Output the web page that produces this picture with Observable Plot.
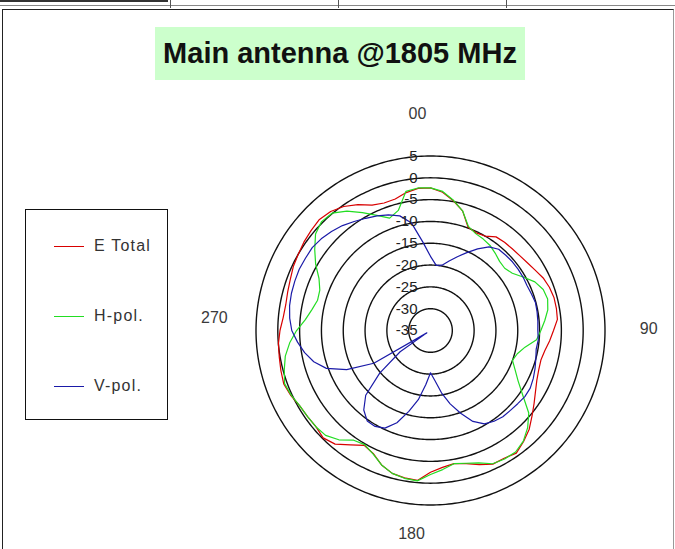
<!DOCTYPE html>
<html><head><meta charset="utf-8">
<script src="https://cdn.jsdelivr.net/npm/d3@7"></script>
<script src="https://cdn.jsdelivr.net/npm/@observablehq/plot@0.6"></script>
<style>
html,body{margin:0;padding:0;background:#fff;}
#wrap{position:relative;width:675px;height:549px;overflow:hidden;font-family:"Liberation Sans",Arial,sans-serif;}
#chart{position:absolute;left:0;top:0;}
#chart svg{display:block;overflow:visible;}
.strip{position:absolute;left:0;top:0;width:675px;height:5px;border-bottom:1px solid #888;}
.stripdark{position:absolute;left:0;top:0;width:168px;height:2px;background:#333;}
.tick{position:absolute;top:0;width:1px;height:8px;background:#555;}
.frame{position:absolute;left:2px;top:9px;width:670px;height:560px;border-left:1px solid #222;border-top:1px solid #222;border-right:1px solid #999;}
.title{position:absolute;left:155px;top:27px;width:370px;height:53px;background:#ccffcc;display:flex;align-items:center;justify-content:center;font-weight:bold;font-size:29px;color:#111;white-space:nowrap;}
.legend{position:absolute;left:25px;top:209px;width:141px;height:209px;border:1.5px solid #111;background:#fff;}
.item{position:absolute;left:0;height:20px;}
.item .ln{position:absolute;left:28px;width:30px;height:0;border-top:1.5px solid #000;}
.item .tx{position:absolute;left:68px;font-size:16px;letter-spacing:1.2px;color:#333;white-space:nowrap;}
</style></head><body>
<div id="wrap">
  <div class="strip"></div><div class="stripdark"></div>
  <div class="tick" style="left:170px"></div><div class="tick" style="left:338px"></div><div class="tick" style="left:506px"></div>
  <div class="frame"></div>
  <div id="chart"></div>
  <div class="title">Main antenna @1805 MHz</div>
  <div class="legend" id="legend"></div>
</div>
<script>
// ---- data ----
const angles = [0,5,10,15,20,25,30,35,40,45,50,55,60,65,70,75,80,85,90,95,100,105,110,115,120,125,130,135,140,145,150,155,160,165,170,175,180,185,190,195,200,205,210,215,220,225,230,235,240,245,250,255,260,265,270,275,280,285,290,295,300,305,310,315,320,325,330,335,340,345,350,355];
const eTotal = [-2.3,-3.2,-4.8,-6.6,-9.8,-10.3,-10.0,-8.8,-8.6,-8.5,-8.3,-7.9,-7.3,-6.5,-6.0,-5.7,-5.7,-5.8,-6.8,-7.6,-8.4,-8.8,-8.6,-8.1,-7.2,-6.0,-4.6,-3.0,-1.8,-0.7,-1.2,-1.2,-2.3,-3.4,-4.0,-3.5,-2.5,-0.5,-0.7,-1.1,-2.2,-3.9,-4.6,-3.0,-1.0,-0.2,-0.7,-0.6,-0.4,0.3,0.8,0.5,0.2,0.0,-0.5,-1.1,-1.3,-1.1,-0.8,-0.3,0.0,0.4,0.7,1.0,0.6,-0.3,-1.7,-3.3,-3.9,-3.8,-2.9,-2.3];
const hPol = [-2.3,-3.0,-4.7,-6.6,-9.6,-10.5,-10.8,-11.2,-11.9,-12.6,-12.8,-12.1,-10.5,-8.6,-7.5,-7.2,-7.7,-8.7,-9.7,-10.6,-13.0,-14.4,-15.0,-13.6,-11.8,-9.2,-5.6,-3.5,-1.9,-1.0,-1.0,-1.3,-2.7,-3.5,-4.0,-3.0,-2.0,-0.4,-0.6,-1.1,-2.2,-3.8,-4.8,-4.3,-2.3,-1.0,-0.7,-0.6,-0.4,0.2,0.6,-0.3,-1.2,-2.6,-4.3,-6.2,-7.4,-8.2,-8.0,-6.8,-4.6,-2.6,-0.6,0.3,0.1,-1.6,-3.8,-5.9,-7.6,-6.5,-2.6,-2.2];
const vAngles = [0,5,10,15,20,25,30,35,40,45,50,55,60,65,70,75,80,85,90,95,100,105,110,115,120,125,130,135,140,145,150,155,160,165,170,175,180,185,190,195,200,205,210,215,220,225,230,235,237,240,245,250,255,260,265,270,275,280,285,290,295,300,305,310,315,320,325,330,335,340,345,350,355];
const vPol = [-18.0,-20.0,-19.8,-18.5,-17.0,-15.3,-13.4,-11.6,-10.7,-10.6,-10.5,-10.5,-10.5,-10.6,-10.4,-10.1,-10.2,-10.3,-10.4,-10.2,-10.4,-10.0,-9.5,-9.0,-8.6,-8.6,-8.9,-9.1,-9.2,-9.6,-10.3,-12.0,-14.8,-17.6,-20.5,-23.5,-25.3,-22.5,-18.9,-15.8,-12.5,-10.3,-9.6,-9.7,-11.2,-14.0,-19.8,-26.5,-34.0,-20.0,-13.8,-9.6,-7.3,-5.7,-4.4,-3.2,-2.6,-2.2,-2.0,-1.9,-1.8,-1.9,-1.9,-2.3,-2.9,-3.6,-4.5,-5.3,-6.0,-6.8,-7.8,-10.0,-14.6];
const seriesNames = ["E Total", "H-pol.", "V-pol."];
const seriesColors = ["#d80000", "#22dd22", "#1a1aa8"];
const ringValues = [5, 0, -5, -10, -15, -20, -25, -30];
const ringTickValues = [5, 0, -5, -10, -15, -20, -25, -30, -35];
const ringTickLabels = ["5", "0", "-5", "-10", "-15", "-20", "-25", "-30", "-35"];
const angleTicks = [0, 90, 180, 270];
const angleLabels = ["00", "90", "180", "270"];
const minDb = -35;
const maxDb = 5;

// ---- build table ----
function rowsFor(name, angs, vals) {
  const r = angs.map((a, i) => ({series: name, angle: a, db: vals[i]}));
  r.push({...r[0]}); // close the loop
  return r;
}
const rows = [
  ...rowsFor(seriesNames[0], angles, eTotal),
  ...rowsFor(seriesNames[1], angles, hPol),
  ...rowsFor(seriesNames[2], vAngles, vPol)
];
const lon = a => 180 - a;            // compass angle -> longitude
const lat = db => 90 - (db - minDb); // dB -> latitude (radius from pole)
const labelR = 50;

function angleText(i, dx, dy) {
  return Plot.text([angleLabels[i]], {
    x: () => lon(angleTicks[i]), y: () => 90 - labelR, text: d => d,
    dx, dy, fontSize: 16, fill: "#3a3a3a", fontFamily: "Liberation Sans, Arial, sans-serif", letterSpacing: "1px"
  });
}

const chart = Plot.plot({
  width: 675, height: 549,
  marginLeft: 255.5, marginRight: 70.5, marginTop: 155.5, marginBottom: 44.5,
  projection: {
    type: "azimuthal-equidistant",
    rotate: [0, -90],
    clip: false,
    domain: d3.geoCircle().center([0, 90]).radius(maxDb - minDb)()
  },
  color: {domain: seriesNames, range: seriesColors},
  marks: [
    Plot.geo(ringValues, {
      geometry: v => d3.geoCircle().center([0, 90]).radius(v - minDb).precision(1)(),
      stroke: "#111", strokeWidth: 1.4, fill: "none"
    }),
    Plot.line(rows, {
      x: d => lon(d.angle), y: d => lat(d.db), z: "series", stroke: "series",
      curve: "linear", strokeWidth: 1.2
    }),
    Plot.text(ringTickValues, {
      x: () => lon(0), y: v => lat(v), text: (v, i) => ringTickLabels[i],
      textAnchor: "end", dx: -13, fontSize: 15, fill: "#222",
      fontFamily: "Liberation Sans, Arial, sans-serif"
    }),
    angleText(0, -13, 1),
    angleText(1, 0, -2),
    angleText(2, -19, -15),
    angleText(3, 2, -13)
  ]
});
document.getElementById("chart").appendChild(chart);

// ---- legend ----
const legend = document.getElementById("legend");
const legendTops = [26, 96, 166];
seriesNames.forEach((name, i) => {
  const it = document.createElement("div");
  it.className = "item";
  it.style.top = legendTops[i] + "px";
  const ln = document.createElement("div");
  ln.className = "ln"; ln.style.top = "10px"; ln.style.borderTopColor = seriesColors[i];
  const tx = document.createElement("div");
  tx.className = "tx"; tx.style.top = "1px"; tx.textContent = name;
  it.appendChild(ln); it.appendChild(tx);
  legend.appendChild(it);
});
</script>
</body></html>
